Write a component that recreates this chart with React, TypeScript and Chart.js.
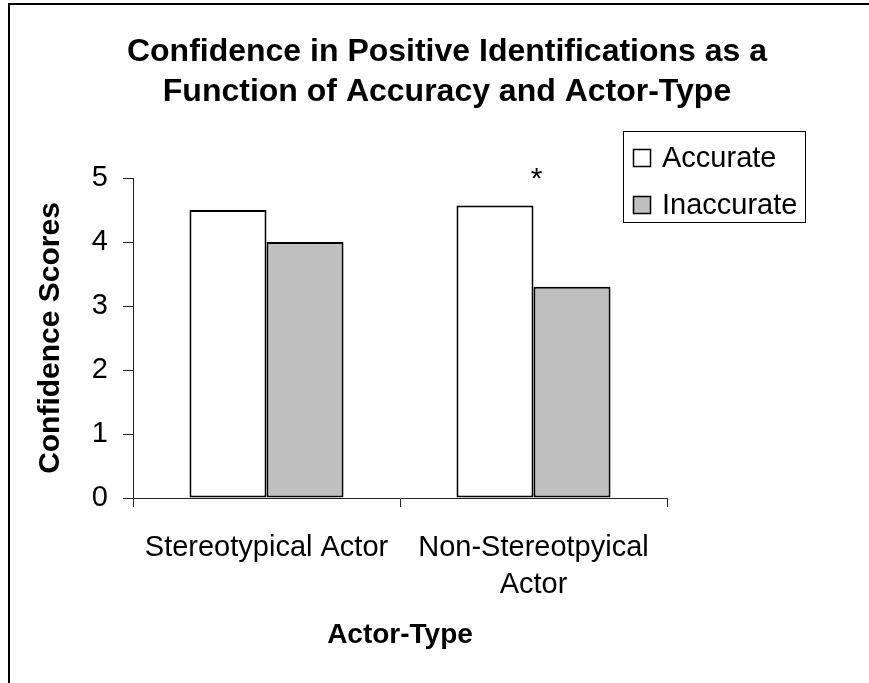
import React, { useEffect, useRef } from 'react';
import { Chart, registerables } from 'chart.js';

Chart.register(...registerables);

const TITLE_LINES = ['Confidence in Positive Identifications as a', 'Function of Accuracy and Actor-Type'];
const CATEGORIES: (string | string[])[] = ['Stereotypical Actor', ['Non-Stereotpyical', 'Actor']];
const SERIES_NAMES = ['Accurate', 'Inaccurate'];
const ACCURATE = [4.5, 4.57];
const INACCURATE = [4.0, 3.3];
const SERIES_COLORS = ['#FFFFFF', '#C0C0C0'];
const Y_MIN = 0;
const Y_MAX = 5;
const Y_STEP = 1;
const Y_TITLE = 'Confidence Scores';
const X_TITLE = 'Actor-Type';
const SIGNIFICANCE_MARK = '*';
const SIGNIFICANT_INDEX = 1;

const W = 869;
const H = 683;
const FONT = "'Liberation Sans', Arial, Helvetica, sans-serif";

const decor = {
  id: 'decor',
  beforeDraw(chart: any) {
    const ctx = chart.ctx as CanvasRenderingContext2D;
    ctx.save();
    ctx.fillStyle = '#ffffff';
    ctx.fillRect(0, 0, W, H);
    ctx.fillStyle = '#000000';
    ctx.fillRect(8, 3, W - 8, 2);
    ctx.fillRect(8, 3, 2, H - 3);
    ctx.restore();
  },
  afterDraw(chart: any) {
    const ctx = chart.ctx as CanvasRenderingContext2D;
    const area = chart.chartArea;
    const xs = chart.scales.x;
    const ys = chart.scales.y;
    ctx.save();
    ctx.fillStyle = '#000';
    // Title
    ctx.font = `bold 32px ${FONT}`;
    ctx.textAlign = 'center';
    ctx.textBaseline = 'alphabetic';
    TITLE_LINES.forEach((line, i) => {
      ctx.fillText(line, 447, 61 + i * 40);
    });
    // X axis title
    ctx.font = `bold 28px ${FONT}`;
    ctx.fillText(X_TITLE, (area.left + area.right) / 2, 643);
    // Y axis title
    ctx.save();
    ctx.translate(51, (area.top + area.bottom) / 2);
    ctx.rotate(-Math.PI / 2);
    ctx.textBaseline = 'middle';
    ctx.font = `bold 30px ${FONT}`;
    ctx.fillText(Y_TITLE, 0, 0);
    ctx.restore();
    // Significance mark
    ctx.font = `30px ${FONT}`;
    ctx.textAlign = 'center';
    ctx.textBaseline = 'alphabetic';
    ctx.fillText(SIGNIFICANCE_MARK, xs.getPixelForValue(SIGNIFICANT_INDEX) + 3, ys.getPixelForValue(Y_MAX) + 10);
    // Legend
    ctx.lineWidth = 1;
    ctx.strokeStyle = '#000';
    ctx.fillStyle = '#fff';
    ctx.fillRect(623, 131, 182, 91);
    ctx.strokeRect(623.5, 131.5, 182, 91);
    const centers = [158, 205];
    chart.data.datasets.forEach((ds: any, i: number) => {
      const cy = centers[i];
      ctx.fillStyle = ds.backgroundColor;
      ctx.fillRect(633, cy - 9, 18, 18);
      ctx.strokeStyle = '#000';
      ctx.lineWidth = 1.5;
      ctx.strokeRect(633.5, cy - 8.5, 17, 17);
      ctx.fillStyle = '#000';
      ctx.font = `29px ${FONT}`;
      ctx.textAlign = 'left';
      ctx.textBaseline = 'middle';
      ctx.fillText(ds.label, 662, cy + 1);
    });
    ctx.restore();
  },
};

export default function App() {
  const ref = useRef<HTMLCanvasElement>(null);
  useEffect(() => {
    if (!ref.current) return;
    const chart = new Chart(ref.current, {
      type: 'bar',
      data: {
        labels: CATEGORIES as any,
        datasets: [
          {
            label: SERIES_NAMES[0],
            data: ACCURATE,
            backgroundColor: SERIES_COLORS[0],
            borderColor: '#000',
            borderWidth: 2,
            borderSkipped: false,
            categoryPercentage: 0.577,
            barPercentage: 1,
          },
          {
            label: SERIES_NAMES[1],
            data: INACCURATE,
            backgroundColor: SERIES_COLORS[1],
            borderColor: '#000',
            borderWidth: 2,
            borderSkipped: false,
            categoryPercentage: 0.577,
            barPercentage: 1,
          },
        ],
      },
      options: {
        responsive: false,
        animation: false,
        devicePixelRatio: 1,
        layout: { padding: { top: 178, right: 202, left: 0, bottom: 0 } },
        plugins: {
          legend: { display: false },
          title: { display: false },
          tooltip: { enabled: false },
        },
        scales: {
          x: {
            grid: { offset: true, drawOnChartArea: false, tickLength: 9, color: '#222', lineWidth: 1 },
            border: { color: '#222', width: 1 },
            ticks: {
              color: '#000',
              font: { family: FONT, size: 29, lineHeight: 1.28 },
              padding: 22,
              maxRotation: 0,
              autoSkip: false,
            },
            afterFit: (s: any) => {
              s.height = 185;
            },
          },
          y: {
            min: Y_MIN,
            max: Y_MAX,
            grid: { drawOnChartArea: false, tickLength: 10, color: '#222', lineWidth: 1 },
            border: { color: '#222', width: 1 },
            ticks: {
              stepSize: Y_STEP,
              color: '#000',
              font: { family: FONT, size: 29 },
              padding: 15,
            },
            afterFit: (s: any) => {
              s.width = 133;
            },
          },
        },
      },
      plugins: [decor],
    });
    return () => chart.destroy();
  }, []);
  return (
    <div style={{ position: 'absolute', left: 0, top: 0, width: W, height: H }}>
      <canvas ref={ref} width={W} height={H} style={{ display: 'block' }} />
    </div>
  );
}
